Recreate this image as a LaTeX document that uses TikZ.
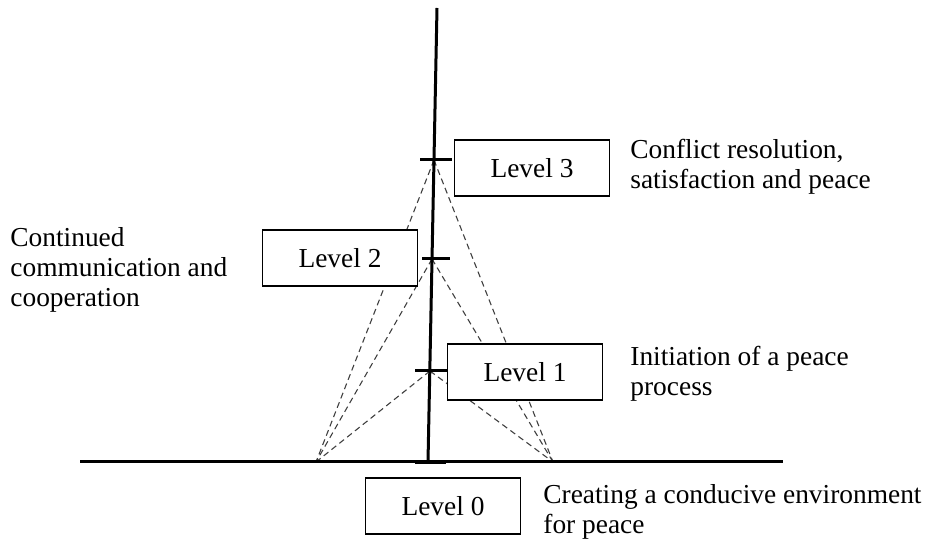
\documentclass[tikz,border=0pt]{standalone}
\usepackage{fontspec}
\setmainfont{Liberation Serif}
\usepackage{tikz}
\usetikzlibrary{calc,positioning}

\tikzset{
    levelbox/.style={draw, line width=0.7pt, minimum width=77.5pt, minimum height=28pt, inner sep=0pt},
    desc/.style={anchor=north west, align=left, inner sep=0pt},
    guide/.style={dashed, gray!50!black, line width=0.55pt, dash pattern=on 3pt off 2pt},
}

\begin{document}
\begin{tikzpicture}[x=0.5pt, y=-0.5pt, font=\fontsize{13.7}{15}\selectfont]
                \useasboundingbox (0,0) rectangle (928,539);
                \coordinate (top) at (437,8);
                \coordinate (k3) at (434,160);
                \coordinate (k2) at (432,259);
                \coordinate (k1) at (430,371);
                \coordinate (k0) at (428,462);
                \coordinate (fl) at (316,462);
                \coordinate (fr) at (553,462);
                \coordinate (gl) at (80,462);
                \coordinate (gr) at (783,462);
                % dashed guides from each level to the feet
                \draw[guide] (k3) -- (fl);
                \draw[guide] (k3) -- (fr);
                \draw[guide] (k2) -- (fl);
                \draw[guide] (k2) -- (fr);
                \draw[guide] (k1) -- (fl);
                \draw[guide] (k1) -- (fr);
                % pole, ground and ticks
                \draw[line width=1.5pt] (gl) -- (gr);
                \draw[line width=1.5pt] (top) -- (k0);
                \draw[line width=1.5pt] ($(k3)+(-14,0)$) -- ($(k3)+(18,0)$);
                \draw[line width=1.5pt] ($(k2)+(-10,0)$) -- ($(k2)+(18,0)$);
                \draw[line width=1.5pt] ($(k1)+(-15,0)$) -- ($(k1)+(17,0)$);
                \draw[line width=2pt] ($(k0)+(-13,0)$) -- ($(k0)+(18,0)$);
                % level boxes
                \node[levelbox, fill=white] (lvl3) at (532,168) {Level 3};
                \node[levelbox, fill=white] (lvl2) at (340,258) {Level 2};
                \node[levelbox, fill=white] (lvl1) at (525,372) {Level 1};
                \node[levelbox, fill=white] (lvl0) at (443,506) {Level 0};
                % descriptions
                \node[desc] (t3) at (630,139) {Conflict resolution,\\satisfaction and peace};
                \node[desc] (t2) at (10,227) {Continued\\communication and\\cooperation};
                \node[desc] (t1) at (630,346) {Initiation of a peace\\process};
                \node[desc] (t0) at (543,484) {Creating a conducive environment\\for peace};
            \end{tikzpicture}
\end{document}
